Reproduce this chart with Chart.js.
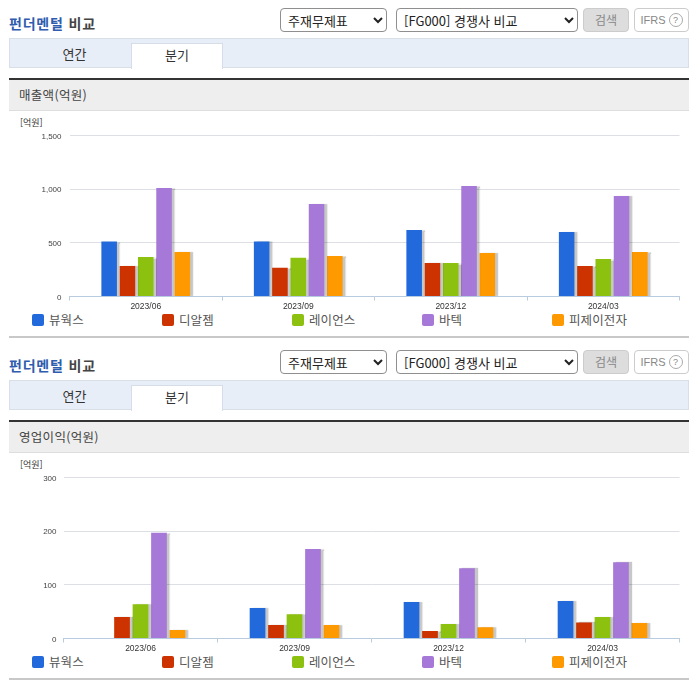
<!DOCTYPE html>
<html lang="ko"><head><meta charset="utf-8">
<script src="https://cdn.jsdelivr.net/npm/chart.js@4"></script>
<style>
html,body{margin:0;padding:0;background:#fff;width:696px;height:684px;overflow:hidden}
body{font-family:"Noto Sans CJK KR","Noto Sans",sans-serif;color:#444;position:relative}
.a{position:absolute;box-sizing:border-box;white-space:nowrap}
.ttl{left:9px;top:13px;font-size:14px;font-weight:700;line-height:20px;letter-spacing:.8px;color:#444}
.ttl b{color:#2f5cae;font-weight:700}
select{position:absolute;box-sizing:border-box;top:8px;height:24px;background:#fff;border:1px solid #8f8f8f;border-radius:4px;font:13px "Noto Sans CJK KR",sans-serif;color:#222;letter-spacing:0;padding:0 3px;margin:0}
.btn{top:8px;height:24px;border-radius:4px;text-align:center;font-size:12px;line-height:22px}
.bar{left:9px;top:38px;width:680px;height:30px;background:#e8eef8;border:1px solid #d8dfe9}
.tab{top:43px;height:26px;text-align:center;font-size:13px;line-height:22px;color:#333}
.tabon{background:#fff;border:1px solid #d5dde8;border-bottom:none}
.dark{left:9px;top:78px;width:680px;height:2px;background:#333}
.hd{left:9px;top:80px;width:680px;height:31px;background:#eee;border-bottom:1px solid #ddd;padding-left:10px;font-size:12.5px;line-height:29px;letter-spacing:.3px;color:#444}
.unit{left:20px;top:116px;font-size:9px;line-height:13px;color:#333}
.lg{top:311px;height:18px;font-size:12.5px;line-height:18px;color:#555;letter-spacing:.1px;padding-left:17px}
.lg i{position:absolute;left:0;top:3px;width:12px;height:12px;border-radius:2px}
.end{left:9px;top:336px;width:680px;height:2px;background:#c8c8c8}
canvas{position:absolute;left:0;top:110px}
.q{display:inline-block;width:12px;height:12px;border:1px solid #aaa;border-radius:50%;font-size:9px;line-height:12px;text-align:center;vertical-align:1px;margin-left:3px;color:#888;box-sizing:content-box}
</style></head><body>
<script>
const categories = ['2023/06','2023/09','2023/12','2024/03'];
const seriesNames = ['뷰웍스','디알젬','레이언스','바텍','피제이전자'];
const seriesColors = ['#2269dc','#cc3300','#8cc20f','#a678d8','#ff9900'];
const revenue뷰웍스 = [512,512,620,601];
const revenue디알젬 = [285,267,313,285];
const revenue레이언스 = [369,360,313,350];
const revenue바텍 = [1011,862,1030,936];
const revenue피제이전자 = [415,378,406,415];
const profit뷰웍스 = [1,57,68,70];
const profit디알젬 = [40,25,14,30];
const profit레이언스 = [64,45,27,40];
const profit바텍 = [197,167,131,142];
const profit피제이전자 = [16,25,21,29];
const revenueTicks = [0,500,1000,1500];
const profitTicks = [0,100,200,300];
const panelTitles = ['매출액(억원)','영업이익(억원)'];
const selectA = '주재무제표', selectB = '[FG000] 경쟁사 비교';

const barShadow = {
  id:'barShadow',
  beforeDatasetDraw(c){const x=c.ctx;x.save();x.shadowColor='rgba(0,0,0,.22)';x.shadowOffsetX=3;x.shadowOffsetY=0;x.shadowBlur=1;},
  afterDatasetDraw(c){c.ctx.restore();}
};

function panel(offset,title,rows,ticks,plotLeft,tickGap){
  const p=document.createElement('div');
  p.className='a';p.style.cssText='left:0;top:'+offset+'px;width:696px;height:342px';
  const lg=seriesNames.map((n,i)=>`<div class="a lg" style="left:${32+130*i}px"><i style="background:${seriesColors[i]}"></i>${n}</div>`).join('');
  p.innerHTML=`<div class="a ttl"><b>펀더멘털</b> 비교</div>
  <select style="left:280px;width:107px"><option>${selectA}</option></select>
  <select style="left:396px;width:182px"><option>${selectB}</option></select>
  <div class="a btn" style="left:583px;width:46px;background:#ddd;border:1px solid #ccc;color:#888">검색</div>
  <div class="a btn" style="left:634px;width:55px;background:#fff;border:1px solid #ccc;color:#888;font-family:'Liberation Sans',sans-serif;font-size:11px">IFRS<span class="q">?</span></div>
  <div class="a bar"></div>
  <div class="a tab" style="left:14px;width:121px">연간</div>
  <div class="a tab tabon" style="left:131px;width:92px">분기</div>
  <div class="a dark"></div>
  <div class="a hd">${title}</div>
  <div class="a unit">[억원]</div>${lg}<div class="a end"></div>`;
  const cv=document.createElement('canvas');
  cv.width=696;cv.height=205;cv.style.width='696px';cv.style.height='205px';
  p.appendChild(cv);document.body.appendChild(p);
  new Chart(cv,{
    type:'bar',
    data:{labels:categories,datasets:seriesNames.map((n,i)=>({label:n,data:rows[i],backgroundColor:seriesColors[i],borderWidth:0,categoryPercentage:.6,barPercentage:.85}))},
    plugins:[barShadow],
    options:{
      responsive:false,animation:false,devicePixelRatio:1,
      layout:{padding:{top:25.5,right:16.5,left:0,bottom:0}},
      plugins:{legend:{display:false},title:{display:false},tooltip:{enabled:false}},
      scales:{
        x:{
          afterFit(s){s.height=18.5},
          grid:{drawOnChartArea:false,drawTicks:true,tickLength:4,color:'#b9cbdf'},
          border:{color:'#b9cbdf'},
          ticks:{color:'#333',font:{family:'"Liberation Sans",sans-serif',size:8.5},padding:1.5,maxRotation:0,autoSkip:false}
        },
        y:{
          min:ticks[0],max:ticks[ticks.length-1],
          afterFit(s){s.width=plotLeft},
          afterBuildTicks(s){s.ticks=ticks.map(v=>({value:v}))},
          grid:{color:'#dcdfe3',drawTicks:false},
          border:{display:false},
          ticks:{color:'#444',font:{family:'"Liberation Sans",sans-serif',size:8},padding:tickGap,labelOffset:1,callback:v=>v.toLocaleString('en-US')}
        }
      }
    }
  });
}
panel(0,panelTitles[0],[revenue뷰웍스,revenue디알젬,revenue레이언스,revenue바텍,revenue피제이전자],revenueTicks,69.5,8);
panel(342,panelTitles[1],[profit뷰웍스,profit디알젬,profit레이언스,profit바텍,profit피제이전자],profitTicks,63.5,7);
</script>
</body></html>
